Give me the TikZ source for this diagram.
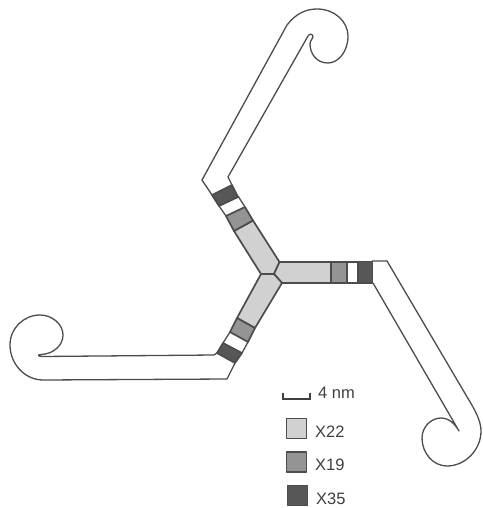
\documentclass[tikz,border=0pt]{standalone}
\usepackage{fontspec}
\setmainfont{Liberation Sans}
\usetikzlibrary{positioning}
\definecolor{inkgrey}{gray}{0.3}
\tikzset{
	outline/.style={line width=1.3pt, color=inkgrey, line join=round},
	band/.style={line width=1.7pt, draw=inkgrey, line join=round},
	lightband/.style={band, fill=black!18},
	midband/.style={band, fill=black!42},
	darkband/.style={band, fill=black!66},
	swatch/.style={band, minimum size=20pt, inner sep=0pt},
	legendtext/.style={font=\fontsize{16.5}{16.5}\selectfont, color=black!75, inner sep=0pt, anchor=west}
}

\begin{document}
\begin{tikzpicture}[x=1pt, y=-1pt]
		%%%%% START %%%%%
		\useasboundingbox (0, 0) rectangle (482, 508);
		
		% upper arm with its hook
		\draw[outline] (212, 195) -- (202, 180) -- (287, 25)
			.. controls (296, 13) and (307, 9) .. (317, 9)
			.. controls (335, 9) and (348, 22) .. (348, 36)
			.. controls (348, 52) and (338, 63) .. (328, 63)
			.. controls (316, 63) and (310, 53) .. (310, 44)
			.. controls (310, 40) and (313, 39) .. (313, 37)
			.. controls (313, 34) and (310, 33) .. (308, 36)
			-- (228, 177) -- (232, 185);
		
		% right arm with its hook
		\draw[outline] (372, 261) -- (387, 261) -- (473, 407)
			.. controls (478, 416) and (481, 424) .. (481, 431)
			.. controls (481, 450) and (465, 466) .. (447, 466)
			.. controls (433, 466) and (422, 453) .. (422, 438)
			.. controls (422, 427) and (431, 418) .. (441, 418)
			.. controls (449, 418) and (455, 424) .. (459, 431)
			-- (373, 283);
		
		% lower arm with its hook
		\draw[outline] (217, 353) -- (214, 355) -- (42, 356.5)
			.. controls (38, 356.5) and (37, 354.5) .. (41, 354.5)
			.. controls (54, 354) and (63, 345) .. (63, 335)
			.. controls (63, 324) and (52, 315) .. (40, 315)
			.. controls (24, 315) and (10, 328) .. (10, 345)
			.. controls (10, 364) and (25, 380) .. (43, 380)
			-- (227, 379) -- (235, 363);
		
		% bands on the upper arm
		\draw[lightband] (234, 231) -- (253, 220.5) -- (279.5, 262) -- (274, 274) -- (261, 274) -- cycle;
		\draw[midband] (226, 216) -- (245, 207) -- (253, 220.5) -- (234, 231) -- cycle;
		\draw[outline] (219, 206) -- (226, 216) (238, 196) -- (245, 207);
		\draw[darkband] (212, 195) -- (232, 185) -- (238, 197) -- (219, 206) -- cycle;
		
		% bands on the right arm
		\draw[lightband] (279.5, 262) -- (331, 262) -- (331, 283) -- (282, 283) -- (274, 274) -- cycle;
		\draw[midband] (331, 262) -- (347, 262) -- (347, 283) -- (331, 283) -- cycle;
		\draw[outline] (347, 262) -- (358, 262) (347, 283) -- (358, 283);
		\draw[darkband] (358, 261.5) -- (372.5, 261.5) -- (372.5, 283) -- (358, 283) -- cycle;
		
		% bands on the lower arm
		\draw[lightband] (261, 274) -- (274, 274) -- (282, 283) -- (255, 328) -- (237, 318) -- cycle;
		\draw[midband] (237, 318) -- (255, 328) -- (248, 342) -- (230, 332) -- cycle;
		\draw[outline] (230, 332) -- (223, 343) (248, 342) -- (242, 353);
		\draw[darkband] (223, 343) -- (242, 353) -- (235, 363) -- (217, 353) -- cycle;
		
		% scale bar
		\coordinate (barleft) at (283, 392.5);
		\coordinate (barright) at (310, 392.5);
		\draw[line width=1.2pt, color=black!75] (barleft) -- ++(0, 6.5) -- ++(27, 0) -- (barright);
		\node[legendtext] (barlabel) at (318, 393) {4 nm};
		
		% legend
		\node[swatch, fill=black!18] (keylight) at (296.5, 428.5) {};
		\node[swatch, fill=black!42] (keymid) at (296.5, 462) {};
		\node[swatch, fill=black!66] (keydark) at (297.5, 495.5) {};
		\node[legendtext] (labellight) at (315, 432) {X22};
		\node[legendtext] (labelmid) at (315, 465) {X19};
		\node[legendtext] (labeldark) at (316, 499) {X35};
		
		%%%%% END %%%%%
	\end{tikzpicture}
\end{document}
